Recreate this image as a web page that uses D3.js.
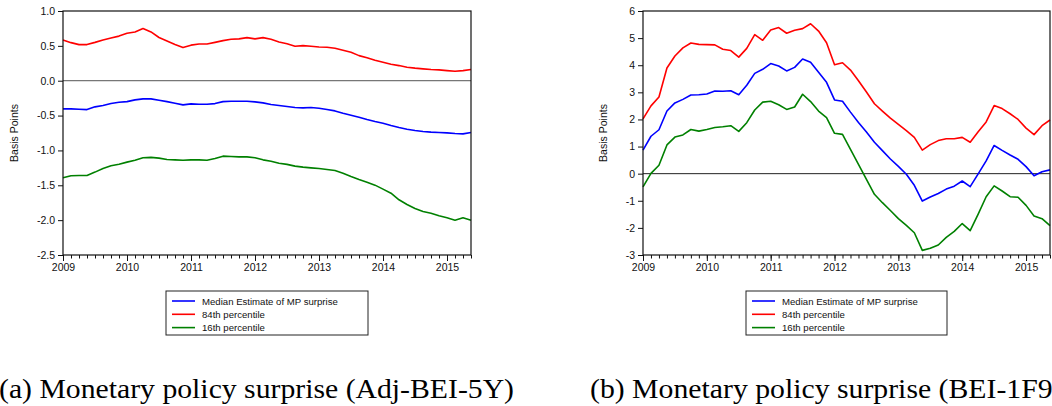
<!DOCTYPE html>
<html>
<head>
<meta charset="utf-8">
<script src="https://cdn.jsdelivr.net/npm/d3@7/dist/d3.min.js"></script>
<style>
  html, body { margin: 0; padding: 0; background: #fff; }
  svg { display: block; }
  .tick text { font-family: "Liberation Sans", Arial, sans-serif; font-size: 10.5px; fill: #111; }
</style>
</head>
<body>
<svg id="chart" width="1052" height="406"></svg>
<script>
// ---------- data ----------
const dates = [2009.000,2009.125,2009.250,2009.375,2009.500,2009.625,2009.750,2009.875,
  2010.000,2010.125,2010.250,2010.375,2010.500,2010.625,2010.750,2010.875,
  2011.000,2011.125,2011.250,2011.375,2011.500,2011.625,2011.750,2011.875,
  2012.000,2012.125,2012.250,2012.375,2012.500,2012.625,2012.750,2012.875,
  2013.000,2013.125,2013.250,2013.375,2013.500,2013.625,2013.750,2013.875,
  2014.000,2014.125,2014.250,2014.375,2014.500,2014.625,2014.750,2014.875,
  2015.000,2015.125,2015.250,2015.375];
const yearTicks = [2009, 2010, 2011, 2012, 2013, 2014, 2015];

// Panel (a): Adj-BEI-5Y
const medianA = [-0.404,-0.404,-0.41,-0.414,-0.375,-0.356,-0.328,-0.309,-0.30,-0.275,
  -0.26,-0.26,-0.28,-0.30,-0.323,-0.347,-0.332,-0.337,-0.337,-0.328,
  -0.30,-0.294,-0.294,-0.294,-0.304,-0.318,-0.342,-0.356,-0.37,-0.385,
  -0.39,-0.385,-0.394,-0.414,-0.433,-0.466,-0.495,-0.523,-0.557,-0.585,
  -0.61,-0.643,-0.671,-0.695,-0.714,-0.729,-0.738,-0.743,-0.748,-0.757,
  -0.762,-0.743];
const p84A = [0.585,0.546,0.518,0.518,0.55,0.585,0.613,0.64,0.68,0.70,
  0.75,0.70,0.62,0.57,0.52,0.475,0.51,0.527,0.527,0.55,
  0.575,0.594,0.60,0.618,0.60,0.618,0.594,0.556,0.53,0.494,
  0.503,0.494,0.484,0.48,0.465,0.436,0.408,0.36,0.33,0.293,
  0.264,0.236,0.217,0.193,0.18,0.17,0.16,0.155,0.145,0.136,
  0.145,0.16];
const p16A = [-1.393,-1.364,-1.359,-1.359,-1.311,-1.26,-1.22,-1.197,-1.168,-1.14,
  -1.106,-1.10,-1.11,-1.13,-1.135,-1.14,-1.135,-1.135,-1.14,-1.116,
  -1.082,-1.087,-1.092,-1.092,-1.106,-1.135,-1.154,-1.183,-1.20,-1.225,
  -1.24,-1.25,-1.26,-1.273,-1.287,-1.326,-1.373,-1.416,-1.455,-1.498,
  -1.555,-1.613,-1.708,-1.775,-1.833,-1.875,-1.90,-1.937,-1.965,-2.0,
  -1.965,-2.0];
const yTicksA = [1.0, 0.5, 0.0, -0.5, -1.0, -1.5, -2.0, -2.5];

// Panel (b): BEI-1F9Y
const medianB = [0.87,1.38,1.62,2.31,2.61,2.74,2.90,2.91,2.94,3.05,
  3.04,3.06,2.91,3.26,3.70,3.85,4.06,3.97,3.79,3.92,
  4.23,4.11,3.74,3.37,2.72,2.67,2.27,1.89,1.54,1.16,
  0.85,0.54,0.27,-0.02,-0.43,-1.01,-0.86,-0.73,-0.57,-0.46,
  -0.27,-0.48,-0.01,0.47,1.04,0.86,0.69,0.53,0.26,-0.08,
  0.07,0.14];
const p84B = [2.02,2.50,2.83,3.90,4.34,4.64,4.82,4.77,4.76,4.75,
  4.59,4.54,4.30,4.62,5.13,4.92,5.30,5.39,5.18,5.29,
  5.35,5.53,5.26,4.83,4.02,4.09,3.82,3.43,3.01,2.58,
  2.31,2.05,1.82,1.59,1.34,0.87,1.07,1.22,1.29,1.29,
  1.34,1.16,1.55,1.91,2.51,2.40,2.21,2.0,1.68,1.44,
  1.77,1.98];
const p16B = [-0.49,0.01,0.31,1.06,1.35,1.43,1.63,1.57,1.63,1.70,
  1.73,1.77,1.56,1.88,2.35,2.64,2.67,2.54,2.37,2.46,
  2.93,2.66,2.31,2.07,1.49,1.45,0.9,0.34,-0.21,-0.76,
  -1.07,-1.36,-1.66,-1.91,-2.18,-2.83,-2.75,-2.63,-2.35,-2.13,
  -1.84,-2.10,-1.49,-0.85,-0.45,-0.64,-0.85,-0.87,-1.17,-1.56,
  -1.66,-1.92];
const yTicksB = [6, 5, 4, 3, 2, 1, 0, -1, -2, -3];

const seriesNames = ["Median Estimate of MP surprise", "84th percentile", "16th percentile"];
const seriesColors = ["#0000ff", "#ff0000", "#008000"];
const yLabel = "Basis Points";
const captions = ["(a) Monetary policy surprise (Adj-BEI-5Y)", "(b) Monetary policy surprise (BEI-1F9Y)"];

// ---------- drawing ----------
const svg = d3.select("#chart");
const loc = d3.formatLocale({decimal: ".", thousands: ",", grouping: [3], currency: ["", ""], minus: "-"});

function drawPanel(cfg) {
  const x = d3.scaleLinear().domain([dates[0], dates[dates.length - 1]]).range([cfg.left, cfg.right]);
  const y = d3.scaleLinear().domain(cfg.yDomain).range([cfg.bottom, cfg.top]);
  const g = svg.append("g");

  // zero line
  g.append("line")
    .attr("x1", cfg.left).attr("x2", cfg.right)
    .attr("y1", y(0)).attr("y2", y(0))
    .attr("stroke", cfg.zeroColor).attr("stroke-width", 1);

  // series (green, red, blue so blue ends on top)
  const line = d3.line().x((d, i) => x(dates[i])).y(d => y(d));
  const data = [cfg.median, cfg.p84, cfg.p16];
  [2, 1, 0].forEach(k => {
    g.append("path").datum(data[k])
      .attr("d", line)
      .attr("fill", "none")
      .attr("stroke", seriesColors[k])
      .attr("stroke-width", 1.6)
      .attr("stroke-linejoin", "round");
  });

  // frame
  g.append("rect")
    .attr("x", cfg.left).attr("y", cfg.top)
    .attr("width", cfg.right - cfg.left).attr("height", cfg.bottom - cfg.top)
    .attr("fill", "none").attr("stroke", "#111").attr("stroke-width", 1.2);

  // y axis
  const ya = g.append("g").attr("transform", `translate(${cfg.left},0)`)
    .call(d3.axisLeft(y).tickValues(cfg.yTicks).tickSize(5).tickPadding(3)
      .tickFormat(loc.format(cfg.yFormat)));
  ya.select(".domain").remove();
  ya.selectAll(".tick line").attr("stroke", "#111");

  // x axis minor ticks
  const xm = g.append("g").attr("transform", `translate(0,${cfg.bottom})`)
    .call(d3.axisBottom(x).tickValues(dates).tickSize(3.5).tickFormat(""));
  xm.select(".domain").remove();
  xm.selectAll(".tick line").attr("stroke", "#111");
  // x axis major ticks
  const xa = g.append("g").attr("transform", `translate(0,${cfg.bottom})`)
    .call(d3.axisBottom(x).tickValues(yearTicks).tickSize(6).tickPadding(3).tickFormat(d3.format("d")));
  xa.select(".domain").remove();
  xa.selectAll(".tick line").attr("stroke", "#111");

  // y label
  g.append("text")
    .attr("transform", `translate(${cfg.yLabelX},${(cfg.top + cfg.bottom) / 2}) rotate(-90)`)
    .attr("text-anchor", "middle")
    .attr("font-family", "Liberation Sans, Arial, sans-serif")
    .attr("font-size", 10.5).attr("fill", "#111")
    .text(yLabel);

  // legend
  const lg = g.append("g").attr("transform", `translate(${cfg.legendX},291)`);
  lg.append("rect").attr("x", 0).attr("y", 0).attr("width", cfg.legendW).attr("height", 44)
    .attr("fill", "#fff").attr("stroke", "#222").attr("stroke-width", 1);
  seriesNames.forEach((name, k) => {
    const yy = 10 + k * 13.3;
    lg.append("line").attr("x1", 6).attr("x2", 29).attr("y1", yy).attr("y2", yy)
      .attr("stroke", seriesColors[k]).attr("stroke-width", 1.6);
    lg.append("text").attr("x", 36).attr("y", yy + 3.5)
      .attr("font-family", "Liberation Sans, Arial, sans-serif")
      .attr("font-size", 9.6).attr("fill", "#111")
      .text(name);
  });

  // caption
  svg.append("text")
    .attr("x", cfg.capX).attr("y", 398)
    .attr("font-family", "Liberation Serif, Times New Roman, serif")
    .attr("font-size", 27).attr("fill", "#000")
    .attr("textLength", cfg.capLen).attr("lengthAdjust", "spacingAndGlyphs")
    .text(cfg.caption);
}

drawPanel({
  left: 63, right: 471, top: 11, bottom: 255,
  yDomain: [-2.5, 1.0], yTicks: yTicksA, yFormat: ".1f",
  median: medianA, p84: p84A, p16: p16A,
  zeroColor: "#555", yLabelX: 18,
  legendX: 166, legendW: 202,
  capX: -1, capLen: 515, caption: captions[0]
});
drawPanel({
  left: 643, right: 1050, top: 11, bottom: 255,
  yDomain: [-3, 6], yTicks: yTicksB, yFormat: "d",
  median: medianB, p84: p84B, p16: p16B,
  zeroColor: "#222", yLabelX: 607,
  legendX: 746, legendW: 201,
  capX: 590, capLen: 494, caption: captions[1]
});
</script>
</body>
</html>
